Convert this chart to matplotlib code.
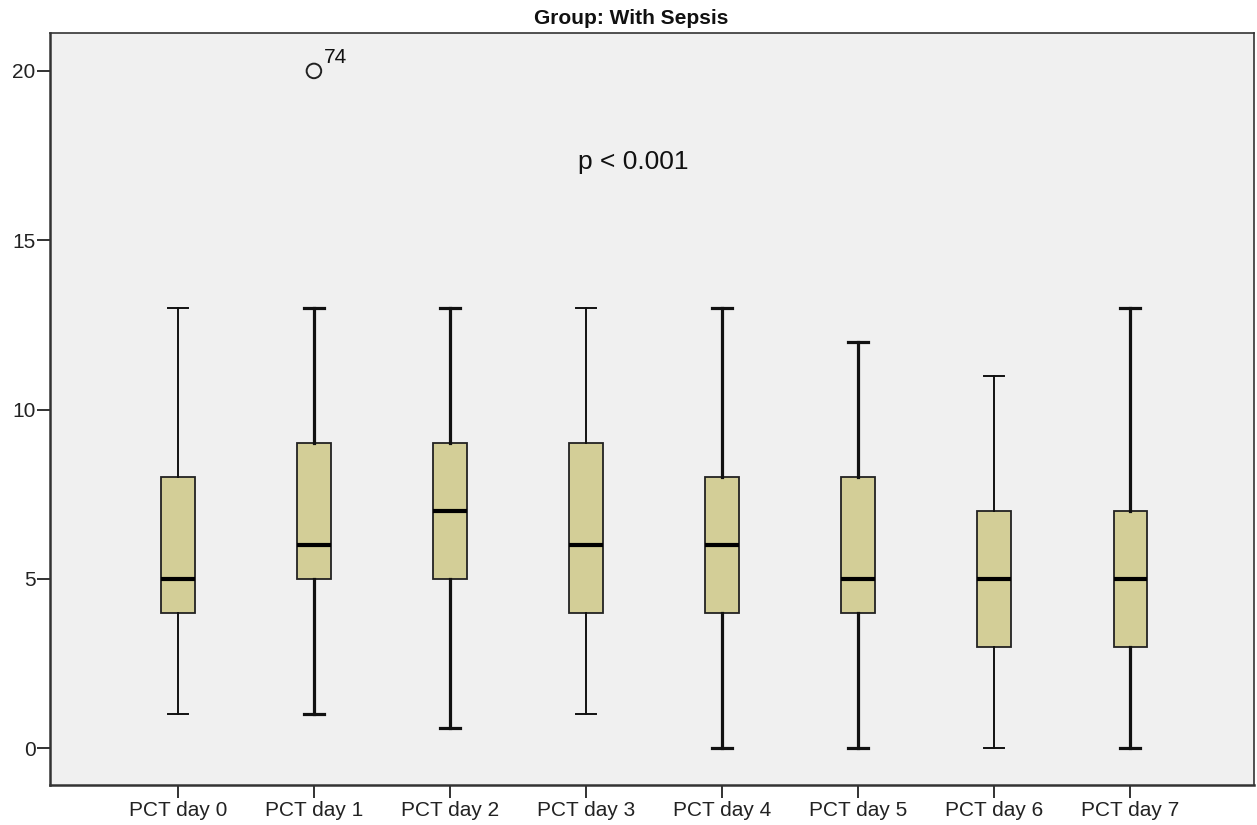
import matplotlib
matplotlib.use("Agg")
import matplotlib.pyplot as plt

categories = ["PCT day 0", "PCT day 1", "PCT day 2", "PCT day 3",
              "PCT day 4", "PCT day 5", "PCT day 6", "PCT day 7"]
whisker_low = [1, 1, 0.6, 1, 0, 0, 0, 0]
q1 = [4, 5, 5, 4, 4, 4, 3, 3]
median = [5, 6, 7, 6, 6, 5, 5, 5]
q3 = [8, 9, 9, 9, 8, 8, 7, 7]
whisker_high = [13, 13, 13, 13, 13, 12, 11, 13]
outlier_cat = [1]
outlier_val = [20]
outlier_lbl = ["74"]
yticks = [0, 5, 10, 15, 20]

plt.rcParams['font.family'] = ['Liberation Sans', 'DejaVu Sans']

fig = plt.figure(figsize=(12.57, 8.25), dpi=100)
ax = fig.add_axes([50/1257, 40/825, 1204/1257, 752/825])
ax.set_facecolor('#F0F0F0')

stats = []
for i in range(len(categories)):
    stats.append(dict(whislo=whisker_low[i], q1=q1[i], med=median[i],
                      q3=q3[i], whishi=whisker_high[i], fliers=[]))

bp = ax.bxp(stats, positions=list(range(len(categories))), widths=0.245,
            patch_artist=True, showfliers=False,
            boxprops=dict(facecolor='#D3CE97', edgecolor='#222222', linewidth=1.3),
            medianprops=dict(color='black', linewidth=3),
            whiskerprops=dict(color='#111111', linewidth=2),
            capprops=dict(color='#111111', linewidth=2))
thick = [False, True, True, False, True, True, False, True]
for i, t in enumerate(thick):
    lw = 2.3 if t else 1.4
    for ln in bp['whiskers'][2*i:2*i+2]:
        ln.set_linewidth(lw)
    for ln in bp['caps'][2*i:2*i+2]:
        ln.set_linewidth(lw)
for ln in bp['caps']:
    x0, x1 = ln.get_xdata()
    c = (x0 + x1) / 2
    ln.set_xdata([c - 0.072, c + 0.072])

ax.scatter(outlier_cat, outlier_val, s=110, facecolors='none',
           edgecolors='#222222', linewidths=1.4, zorder=5)
for xc, yv, lb in zip(outlier_cat, outlier_val, outlier_lbl):
    ax.annotate(lb, (xc, yv), xytext=(7, 6), textcoords='offset points',
                fontsize=15, color='#111111')

ax.text(3.35, 17.3, "p < 0.001", fontsize=19, ha='center', va='center', color='#111111')

ax.set_xlim(-0.94, 7.91)
ax.set_ylim(-1.09, 21.12)
ax.set_yticks(yticks)
ax.set_yticklabels([str(v) for v in yticks])
ax.set_xticks(range(len(categories)))
ax.set_xticklabels(categories)
ax.tick_params(axis='both', labelsize=15, colors='#222222', length=9.5, width=1.3, direction='out')
ax.tick_params(axis='y', pad=1)
ax.tick_params(axis='x', pad=2)
for sp in ax.spines.values():
    sp.set_color('#333333')
    sp.set_linewidth(1.2)
ax.spines['left'].set_linewidth(1.8)
ax.spines['bottom'].set_linewidth(1.8)

fig.text(0.5025, 0.978, "Group: With Sepsis", fontsize=15, fontweight='bold',
         ha='center', va='center', color='#111111')

fig.savefig("out.png", dpi=100)
